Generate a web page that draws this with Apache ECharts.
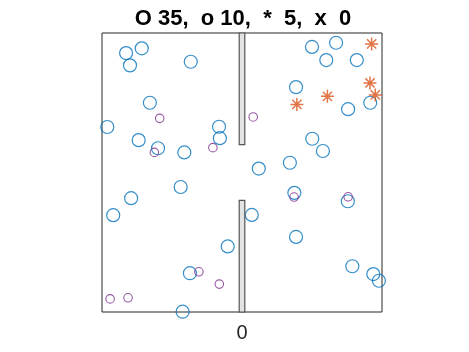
<!DOCTYPE html>
<html>
<head>
<meta charset="utf-8">
<script src="https://cdn.jsdelivr.net/npm/echarts@6/dist/echarts.min.js"></script>
<style>html,body{margin:0;padding:0;background:#fff;}#c{width:469px;height:352px;}</style>
</head>
<body>
<div id="c"></div>
<script>
const titleText = 'O 35,  o 10,  *  5,  x  0';
const xTickLabels = ['0'];
const bigCircles = [
  [-41.4,92.8],[-35.8,94.5],[-40.0,88.4],[-18.3,89.7],[-32.9,75.0],[-48.1,66.3],
  [-8.2,66.4],[-7.9,62.3],[-36.9,61.6],[-30.0,58.7],[-20.6,57.2],[25.0,95.0],
  [33.6,96.5],[30.1,90.3],[41.0,90.3],[19.3,80.6],[37.9,72.7],[45.8,75.0],
  [25.1,62.1],[28.9,57.7],[17.1,53.5],[6.0,51.4],[-21.9,44.8],[-39.6,40.8],
  [-46.0,34.7],[-5.1,23.5],[-18.6,13.9],[-21.2,0.1],[18.7,42.7],[37.8,39.7],
  [3.5,34.8],[19.3,26.9],[39.4,16.4],[46.9,13.6],[48.9,11.2]
];
const smallCircles = [
  [-29.4,69.4],[-31.3,57.2],[-10.4,58.9],[4.0,69.9],[-15.4,14.4],
  [-8.1,10.0],[-47.1,4.7],[-40.7,5.1],[18.6,41.2],[37.9,41.3]
];
const stars = [
  [46.3,96.1],[45.7,82.1],[47.6,77.8],[30.5,77.3],[19.6,74.4]
];
const crosses = [];
const walls = [
  [-1, 1, 60, 100],
  [-1, 1, 0, 40]
];

const chart = echarts.init(document.getElementById('c'), null, {renderer: 'canvas'});
const starPath = 'path://M0,-10L0,10M-10,0L10,0M-7.07,-7.07L7.07,7.07M-7.07,7.07L7.07,-7.07';
chart.setOption({
  animation: false,
  backgroundColor: '#fff',
  title: {
    text: titleText, left: 238, top: 3, textAlign: 'center',
    textStyle: {fontFamily: 'Liberation Sans', fontWeight: 'bold', fontSize: 22, color: '#000'}
  },
  grid: {left: 102, top: 33, width: 280, height: 279, show: true, borderColor: '#262626', borderWidth: 1, backgroundColor: '#fff'},
  xAxis: {
    type: 'value', min: -50, max: 50, interval: 50,
    axisLine: {show: false}, axisTick: {show: false}, splitLine: {show: false},
    axisLabel: {
      margin: 11, fontSize: 20, fontFamily: 'Liberation Sans', color: '#262626',
      formatter: v => (Math.abs(v) < 1e-9 ? xTickLabels[0] : '')
    }
  },
  yAxis: {
    type: 'value', min: 0, max: 100,
    axisLine: {show: false}, axisTick: {show: false}, splitLine: {show: false}, axisLabel: {show: false}
  },
  series: [
    {
      type: 'scatter', data: bigCircles, symbol: 'circle', symbolSize: 13, clip: false,
      itemStyle: {color: 'rgba(0,0,0,0)', borderColor: '#0072BD', borderWidth: 1.2}, z: 3
    },
    {
      type: 'scatter', data: smallCircles, symbol: 'circle', symbolSize: 8.5, clip: false,
      itemStyle: {color: 'rgba(0,0,0,0)', borderColor: '#7E2F8E', borderWidth: 1.1}, z: 3
    },
    {
      type: 'scatter', data: stars, symbol: starPath, symbolSize: 13, clip: false,
      itemStyle: {color: 'rgba(0,0,0,0)', borderColor: '#D95319', borderWidth: 1.5}, z: 3
    },
    {
      type: 'scatter', data: crosses, symbol: 'circle', symbolSize: 10
    },
    {
      type: 'custom', data: walls, clip: false, z: 4,
      renderItem: function (params, api) {
        const p0 = api.coord([api.value(0), api.value(3)]);
        const p1 = api.coord([api.value(1), api.value(2)]);
        return {
          type: 'rect',
          shape: {x: p0[0], y: p0[1], width: p1[0] - p0[0], height: p1[1] - p0[1]},
          style: {fill: '#e3e3e3', stroke: '#555555', lineWidth: 1.2}
        };
      },
      encode: {x: [0, 1], y: [2, 3]}
    }
  ]
});
</script>
</body>
</html>
